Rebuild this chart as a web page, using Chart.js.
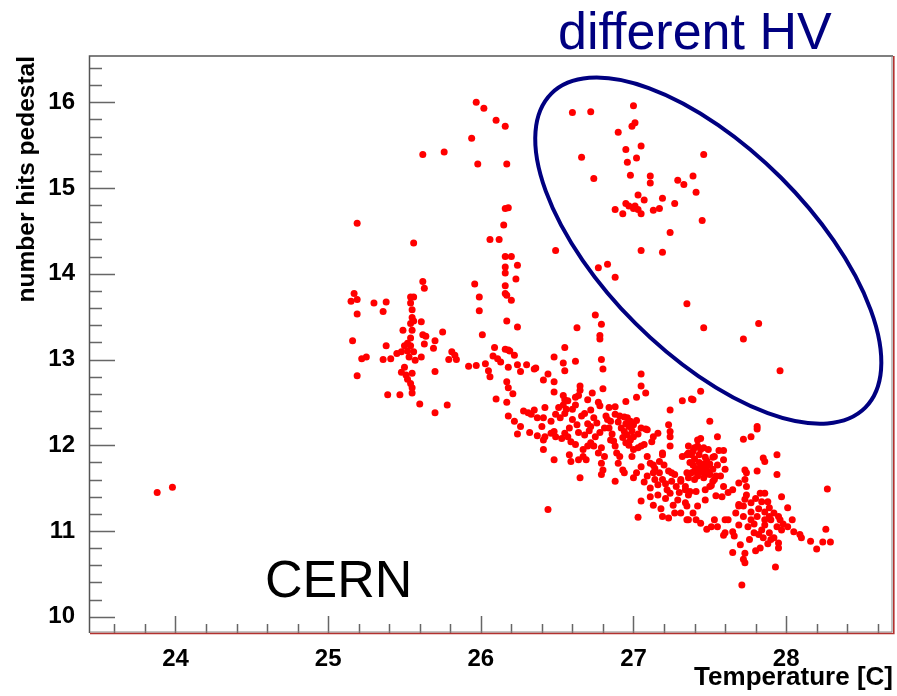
<!DOCTYPE html>
<html>
<head>
<meta charset="utf-8">
<script src="https://cdn.jsdelivr.net/npm/chart.js@4.4.1/dist/chart.umd.min.js"></script>
<style>
  html, body { margin: 0; padding: 0; background: #fff; }
  #wrap { width: 897px; height: 696px; }
</style>
</head>
<body>
<div id="wrap"><canvas id="scan" width="897" height="696"></canvas></div>
<script>
// tick labels
const tempTicks = [24, 25, 26, 27, 28];
const hitTicks = [10, 11, 12, 13, 14, 15, 16];

// [temperature, hits] pairs
const coldRuns = [[23.88, 11.45], [23.98, 11.51]];

const pedestalLeft = [
    [25.56, 14.36], [26.06, 14.40], [26.12, 14.40], [26.16, 14.20], [26.20, 14.20], [26.24, 14.10],
    [26.16, 14.08], [26.16, 14.01], [26.23, 13.94], [25.62, 13.91], [25.63, 13.83], [25.96, 13.88],
    [26.16, 13.86], [26.16, 13.77], [26.17, 13.75], [25.17, 13.77], [25.15, 13.68], [25.19, 13.70],
    [25.54, 13.73], [25.56, 13.73], [25.99, 13.73], [26.20, 13.69], [25.30, 13.66], [25.38, 13.67],
    [25.54, 13.66], [25.55, 13.58], [25.36, 13.56], [25.19, 13.53], [25.99, 13.57], [25.55, 13.49],
    [25.54, 13.42], [25.56, 13.45], [25.61, 13.44], [26.17, 13.45], [26.24, 13.38], [25.49, 13.34],
    [25.55, 13.34], [25.75, 13.32], [25.62, 13.29], [25.64, 13.27], [26.01, 13.29], [25.16, 13.22],
    [25.54, 13.25], [25.52, 13.19], [25.54, 13.16], [25.70, 13.22], [25.69, 13.13], [25.63, 13.18],
    [25.38, 13.16], [25.50, 13.16], [26.09, 13.14], [26.16, 13.12], [26.18, 13.11], [26.19, 13.10],
    [25.56, 13.09], [25.52, 13.10], [25.45, 13.07], [25.48, 13.09], [25.81, 13.09], [25.83, 13.05],
    [25.84, 13.00], [26.08, 13.04], [26.11, 13.01], [26.13, 12.97], [26.22, 13.05], [25.61, 13.03],
    [25.53, 13.03], [25.57, 12.99], [25.22, 13.01], [25.25, 13.03], [25.36, 13.00], [25.41, 13.01],
    [25.79, 13.00], [26.03, 12.95], [25.92, 12.92], [25.97, 12.93], [26.18, 12.91], [26.24, 12.94],
    [26.30, 12.94], [26.36, 12.90], [26.35, 12.89], [25.50, 12.91], [25.48, 12.85], [25.51, 12.82],
    [25.55, 12.84], [26.05, 12.87], [26.06, 12.80], [26.26, 12.86], [25.70, 12.86], [26.44, 12.83],
    [25.19, 12.81], [25.52, 12.77], [25.54, 12.72], [25.55, 12.67], [25.55, 12.61], [26.41, 12.76],
    [26.17, 12.74], [26.18, 12.67], [26.21, 12.60], [25.39, 12.59], [25.47, 12.59], [26.10, 12.54],
    [26.17, 12.50], [25.60, 12.48], [25.78, 12.47], [25.70, 12.38], [26.42, 12.44], [26.28, 12.40],
    [26.31, 12.38], [26.33, 12.36], [26.37, 12.32], [26.41, 12.32], [26.24, 12.13], [26.32, 12.15],
    [26.37, 12.11], [26.42, 12.10],
    [25.19, 14.59], [25.62, 15.39], [25.76, 15.42], [25.97, 16.00], [26.02, 15.93], [25.94, 15.58],
    [25.98, 15.28], [26.10, 15.79], [26.16, 15.72], [26.17, 15.28], [26.16, 14.76], [26.18, 14.77],
    [26.15, 14.57], [26.49, 14.27]
];

const pedestalBand = [
    [26.75, 13.52], [26.63, 13.37], [26.79, 13.41], [26.78, 13.28], [26.78, 13.24], [26.55, 13.14],
    [26.48, 13.03], [26.54, 12.96], [26.55, 12.87], [26.62, 12.98], [26.48, 12.74], [26.79, 13.00],
    [26.80, 12.89], [26.65, 12.69], [26.65, 12.64], [26.64, 12.58], [26.73, 12.61], [26.80, 12.66],
    [26.48, 12.62], [26.54, 12.58], [26.57, 12.52], [26.54, 12.47], [26.51, 12.44], [26.62, 12.47],
    [26.77, 12.50], [26.88, 12.45], [26.95, 12.51], [27.02, 12.56], [27.05, 12.83], [27.05, 12.69],
    [27.08, 12.61], [27.32, 12.52], [27.38, 12.54], [27.44, 12.63], [27.24, 12.41], [27.39, 12.53],
    [26.55, 12.53], [26.60, 12.42], [26.56, 12.42], [26.78, 12.46], [26.72, 12.41],
    [26.49, 12.36], [26.55, 12.37], [26.52, 12.32], [26.66, 12.34], [26.68, 12.37],
    [26.74, 12.32], [26.76, 12.26], [26.70, 12.25], [26.72, 12.22],
    [26.82, 12.34], [26.83, 12.30], [26.85, 12.28],
    [26.88, 12.36], [26.91, 12.34], [26.94, 12.33], [26.96, 12.32], [26.95, 12.25], [26.97, 12.22],
    [27.02, 12.29], [27.05, 12.20], [27.08, 12.19],
    [26.94, 12.16], [26.96, 12.12], [27.00, 12.10], [26.98, 12.06], [26.95, 12.03],
    [27.05, 11.99], [27.03, 11.97], [27.07, 12.01], [27.12, 12.04],
    [26.41, 12.06], [26.41, 11.95], [26.46, 12.14], [26.48, 12.16], [26.49, 12.10], [26.53, 12.08],
    [26.57, 12.10], [26.48, 11.83],
    [26.58, 11.89], [26.59, 11.81], [26.64, 11.83], [26.67, 11.87], [26.69, 11.83],
    [26.65, 11.62], [26.44, 11.25],
    [26.72, 12.03], [26.74, 11.99], [26.77, 11.91], [26.79, 11.97], [26.81, 11.87], [26.79, 11.79],
    [26.80, 11.71], [26.79, 11.66],
    [26.85, 12.06], [26.88, 11.99], [26.89, 11.91], [26.91, 11.87], [26.90, 11.79], [26.93, 11.71],
    [26.94, 11.68], [26.88, 11.58],
    [26.99, 11.87], [27.02, 11.68], [27.00, 11.62], [27.05, 11.75],
    [27.09, 11.87], [27.11, 11.79], [27.13, 11.77], [27.14, 11.73], [27.17, 11.81], [27.19, 11.89],
    [27.20, 11.77], [27.23, 11.70], [27.25, 11.68], [27.27, 11.66], [27.17, 11.68], [27.13, 11.68],
    [27.09, 11.64], [27.14, 11.60],
    [27.07, 11.57], [27.11, 11.50], [27.05, 11.35], [27.11, 11.40], [27.03, 11.16], [27.16, 11.54],
    [27.19, 11.60], [27.22, 11.48], [27.24, 11.44], [27.28, 11.52], [27.31, 11.58], [27.35, 11.68],
    [27.34, 11.52], [27.37, 11.46], [27.40, 11.60], [27.42, 11.68], [27.46, 11.71], [27.48, 11.75],
    [27.53, 11.60], [27.50, 11.52], [27.47, 11.36], [27.42, 11.29], [27.39, 11.21], [27.35, 11.13],
    [27.27, 11.21], [27.23, 11.15], [27.19, 11.17], [27.29, 11.36], [27.34, 11.33], [27.44, 11.09],
    [27.51, 11.05],
    [27.39, 11.77], [27.41, 11.73], [27.44, 11.75], [27.45, 11.69], [27.42, 11.64], [27.47, 11.66],
    [27.49, 11.69], [27.38, 11.68],
    [27.32, 11.87], [27.36, 11.91], [27.39, 11.93], [27.42, 11.99], [27.46, 11.97], [27.49, 11.95],
    [27.53, 11.87], [27.55, 12.10], [27.50, 12.28], [27.44, 12.08],
    [27.23, 12.24], [27.24, 12.16], [27.24, 12.10], [27.24, 11.99], [27.19, 11.91],
    [27.09, 12.18], [27.13, 12.10], [27.16, 12.14], [27.36, 11.99], [27.38, 11.89],
    [26.35, 12.41], [26.46, 12.28], [26.40, 12.22], [26.59, 12.04], [26.62, 12.01], [26.55, 12.14],
    [26.67, 11.95], [26.70, 11.99], [26.18, 12.34], [26.22, 12.28], [26.26, 12.22],
    [26.90, 12.27], [26.92, 12.20], [26.98, 12.28], [27.00, 12.24], [26.99, 12.17], [27.03, 12.13],
    [26.93, 12.09], [26.97, 12.00], [27.00, 11.95], [26.86, 12.13], [26.84, 12.20], [26.87, 12.05],
    [27.37, 11.80], [27.40, 11.84], [27.43, 11.80], [27.46, 11.78], [27.48, 11.82], [27.50, 11.78],
    [27.44, 11.71], [27.40, 11.70], [27.46, 11.62], [27.36, 11.62], [27.50, 11.66], [27.52, 11.72],
    [26.60, 12.30], [26.63, 12.24], [26.64, 12.15], [26.68, 12.12], [26.71, 12.17], [26.75, 12.10],
    [26.78, 12.15], [26.81, 12.20], [26.62, 12.56], [26.70, 12.53], [26.84, 12.44], [26.58, 12.20],
    [27.16, 11.42], [27.21, 11.38], [27.26, 11.30], [27.30, 11.45], [27.13, 11.30], [27.18, 11.26],
    [27.25, 11.58], [27.21, 11.55]
];

const pedestalWarm = [
    [27.72, 12.07], [27.77, 12.10], [27.81, 12.22], [27.81, 12.19],
    [27.42, 12.06], [27.40, 11.97], [27.35, 11.89], [27.44, 11.95], [27.43, 11.89], [27.47, 11.86],
    [27.52, 11.86],
    [27.56, 11.94], [27.59, 11.94], [27.59, 11.83], [27.55, 11.77], [27.60, 11.72], [27.57, 11.64],
    [27.54, 11.64], [27.52, 11.58],
    [27.85, 11.85], [27.86, 11.81], [27.94, 11.89],
    [27.73, 11.71], [27.74, 11.68], [27.81, 11.70], [27.94, 11.66],
    [27.31, 11.60], [27.34, 11.48], [27.36, 11.42], [27.41, 11.46], [27.47, 11.48], [27.51, 11.53],
    [27.54, 11.41], [27.58, 11.40], [27.62, 11.45], [27.65, 11.48], [27.59, 11.52],
    [27.69, 11.56], [27.73, 11.60], [27.74, 11.52], [27.74, 11.42], [27.69, 11.31], [27.72, 11.29],
    [27.73, 11.37], [27.77, 11.33], [27.80, 11.38], [27.83, 11.44], [27.86, 11.44], [27.84, 11.34],
    [27.88, 11.34],
    [27.97, 11.40], [28.01, 11.27], [27.89, 11.27], [27.92, 11.21], [27.95, 11.17], [27.90, 11.13],
    [27.96, 11.13], [27.94, 11.05], [27.97, 11.01], [27.86, 11.07], [27.84, 11.01], [27.79, 10.98],
    [27.82, 10.96], [27.89, 10.98], [27.92, 10.92], [27.90, 10.90],
    [27.95, 10.86], [27.95, 10.80], [27.83, 10.80], [27.80, 10.77], [27.73, 10.74], [27.72, 10.67],
    [27.73, 10.63], [27.65, 10.75], [27.70, 10.84], [27.66, 10.94], [27.60, 10.98], [27.55, 11.05],
    [27.53, 11.13], [27.60, 11.13], [27.69, 11.07], [27.65, 10.99], [27.75, 11.05], [27.77, 11.13],
    [27.72, 11.17], [27.81, 11.17], [27.86, 11.13], [27.89, 11.17],
    [27.93, 10.58], [27.71, 10.37],
    [28.04, 11.13], [28.01, 11.05], [28.05, 10.99], [28.09, 10.96], [28.10, 10.92], [28.16, 10.88],
    [28.20, 10.79], [28.24, 10.87], [28.29, 10.87], [28.26, 11.02], [28.27, 11.49],
    [27.35, 11.29], [27.36, 11.13], [27.41, 11.13], [27.48, 11.02], [27.59, 10.95],
    [27.31, 11.21], [27.62, 11.13], [27.67, 11.21], [27.69, 11.29],
    [27.77, 11.22], [27.82, 11.26], [27.86, 11.22], [27.79, 11.08], [27.85, 10.92], [27.88, 10.85],
    [27.76, 10.90], [27.98, 11.08]
];

// runs taken at the other high-voltage setting
const otherHV = [
    [26.60, 15.88], [26.72, 15.89], [27.00, 15.96], [26.99, 15.72], [27.01, 15.76], [26.90, 15.65],
    [27.05, 15.49], [26.95, 15.45], [27.46, 15.39], [26.66, 15.36], [27.02, 15.35], [26.96, 15.30],
    [26.98, 15.15], [27.11, 15.14], [27.39, 15.14], [27.11, 15.06], [27.29, 15.09], [27.33, 15.04],
    [26.74, 15.11], [27.41, 14.95], [27.03, 14.92], [27.07, 14.86], [27.19, 14.88], [26.95, 14.82],
    [26.97, 14.79], [27.00, 14.76], [27.01, 14.79], [27.03, 14.75], [27.05, 14.70], [26.88, 14.75],
    [26.93, 14.70], [27.13, 14.74], [27.17, 14.76], [27.27, 14.82], [27.45, 14.62], [27.24, 14.48],
    [27.05, 14.27], [27.19, 14.25], [26.77, 14.07], [26.83, 14.11], [26.88, 13.96], [27.35, 13.65],
    [27.46, 13.37], [27.82, 13.42], [27.72, 13.24], [27.96, 12.87]
];

const toXY = arr => arr.map(p => ({ x: p[0], y: p[1] }));

const fontFamily = "'Liberation Sans', Arial, Helvetica, sans-serif";
const navy = '#000080';

// ROOT-like frame: inward ticks, coloured border, ellipse and labels
const rootFrame = {
    id: 'rootFrame',
    afterDatasetsDraw(chart) {
        const { ctx, chartArea: a, scales: { x, y } } = chart;
        ctx.save();

        ctx.strokeStyle = '#666';
        ctx.lineWidth = 1.5;
        ctx.beginPath();
        for (let i = Math.ceil(x.min * 5); i <= Math.floor(x.max * 5); i++) {
            const px = Math.round(x.getPixelForValue(i / 5)) + 0.5;
            const len = i % 5 === 0 ? 17 : 9;
            ctx.moveTo(px, a.bottom);
            ctx.lineTo(px, a.bottom - len);
        }
        for (let i = Math.ceil(y.min * 5); i <= Math.floor(y.max * 5); i++) {
            const py = Math.round(y.getPixelForValue(i / 5)) + 0.5;
            const len = i % 5 === 0 ? 25 : 12;
            ctx.moveTo(a.left, py);
            ctx.lineTo(a.left + len, py);
        }
        ctx.stroke();

        // left and top edges
        ctx.strokeStyle = '#555';
        ctx.lineWidth = 1.5;
        ctx.beginPath();
        ctx.moveTo(a.left - 0.5, a.bottom);
        ctx.lineTo(a.left - 0.5, a.top);
        ctx.lineTo(a.right, a.top);
        ctx.stroke();

        // bottom and right edges
        ctx.strokeStyle = '#888';
        ctx.lineWidth = 1;
        ctx.beginPath();
        ctx.moveTo(a.left, a.bottom - 1);
        ctx.lineTo(a.right - 1, a.bottom - 1);
        ctx.lineTo(a.right - 1, a.top);
        ctx.stroke();
        ctx.strokeStyle = '#b3312f';
        ctx.lineWidth = 1.6;
        ctx.beginPath();
        ctx.moveTo(a.left, a.bottom + 0.5);
        ctx.lineTo(a.right + 0.8, a.bottom + 0.5);
        ctx.lineTo(a.right + 0.8, a.top);
        ctx.stroke();

        // ellipse around the other-HV runs
        ctx.strokeStyle = navy;
        ctx.lineWidth = 4;
        ctx.beginPath();
        ctx.ellipse(x.getPixelForValue(27.49), y.getPixelForValue(14.27), 222, 103, Math.PI / 4, 0, Math.PI * 2);
        ctx.stroke();

        ctx.textAlign = 'left';
        ctx.textBaseline = 'alphabetic';
        ctx.fillStyle = navy;
        ctx.font = '52px ' + fontFamily;
        ctx.fillText('different HV', 558, 49);

        ctx.fillStyle = '#000';
        ctx.font = '52px ' + fontFamily;
        ctx.fillText('CERN', 265, 597);

        ctx.restore();
    }
};

new Chart(document.getElementById('scan'), {
    type: 'scatter',
    data: {
        datasets: [coldRuns, pedestalLeft, pedestalBand, pedestalWarm, otherHV].map(set => ({
            data: toXY(set),
            backgroundColor: '#ff0000',
            borderWidth: 0,
            pointRadius: 3.5,
            pointHoverRadius: 3.5
        }))
    },
    options: {
        responsive: false,
        animation: false,
        events: [],
        layout: { padding: { top: 56, right: 4, bottom: 0, left: 0 } },
        plugins: { legend: { display: false }, tooltip: { enabled: false } },
        scales: {
            x: {
                type: 'linear',
                min: 23.44,
                max: 28.70,
                afterBuildTicks: s => { s.ticks = tempTicks.map(v => ({ value: v })); },
                afterFit: s => { s.height = 63; },
                grid: { display: false },
                border: { display: false },
                ticks: {
                    autoSkip: false,
                    maxRotation: 0,
                    padding: 4,
                    color: '#000',
                    font: { family: fontFamily, size: 24, weight: 'bold' }
                },
                title: {
                    display: true,
                    text: 'Temperature [C]',
                    align: 'end',
                    color: '#000',
                    font: { family: fontFamily, size: 26, weight: 'bold' },
                    padding: { top: 0, bottom: 3 }
                }
            },
            y: {
                type: 'linear',
                min: 9.81,
                max: 16.54,
                afterBuildTicks: s => { s.ticks = hitTicks.map(v => ({ value: v })); },
                afterFit: s => { s.width = 90; },
                grid: { display: false },
                border: { display: false },
                ticks: {
                    autoSkip: false,
                    padding: 7,
                    color: '#000',
                    font: { family: fontFamily, size: 24, weight: 'bold' }
                },
                title: {
                    display: true,
                    text: 'number hits pedestal',
                    align: 'end',
                    color: '#000',
                    font: { family: fontFamily, size: 24.5, weight: 'bold' },
                    padding: { top: 13, bottom: 0 }
                }
            }
        }
    },
    plugins: [rootFrame]
});
</script>
</body>
</html>
